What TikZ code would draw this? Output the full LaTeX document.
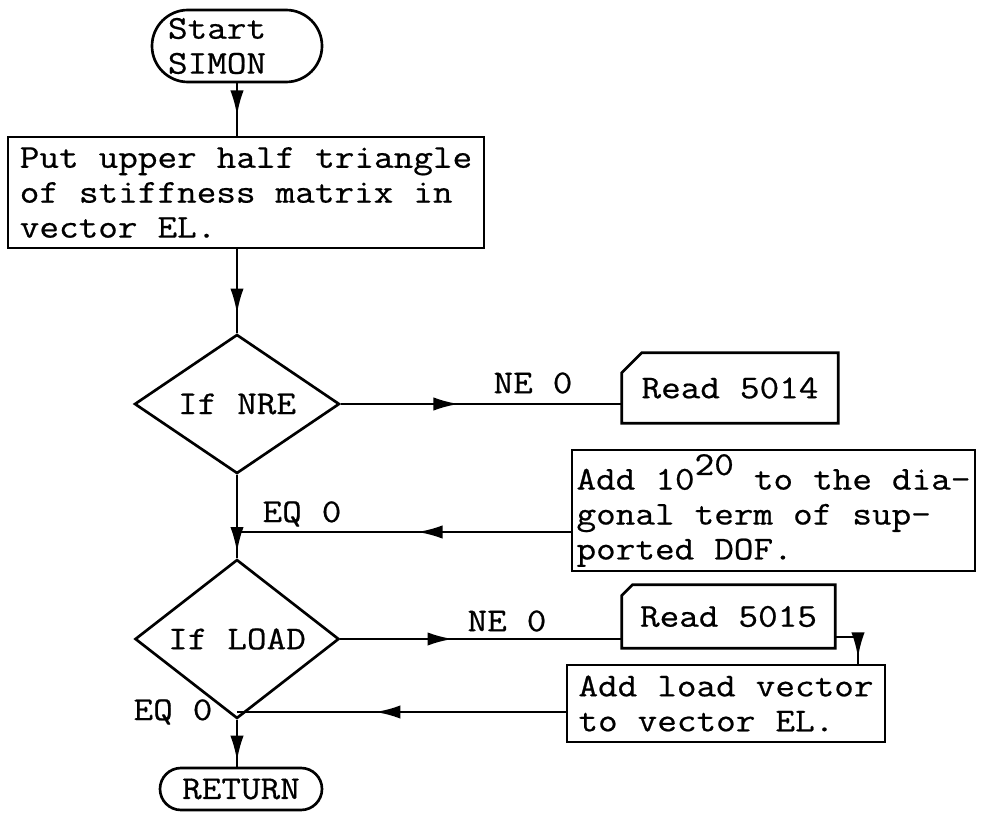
\documentclass[tikz,border=0pt]{standalone}
\usepackage{fontspec}
\newfontfamily\twfont{Latin Modern Mono}[FakeStretch=1.143,FakeBold=0.6]
\newcommand{\twsetup}{\twfont\fontsize{25}{26.2}\selectfont
  \fontdimen2\font=15pt\fontdimen3\font=0pt\fontdimen4\font=0pt\relax}
\usetikzlibrary{shapes.geometric,arrows.meta,decorations.markings}
\begin{document}
\begin{tikzpicture}[x=0.75pt,y=-0.75pt,
  every node/.style={font=\twsetup},
  boxline/.style={line width=2pt},
  conn/.style={line width=2pt},
  midarrow/.style={postaction={decorate},decoration={markings,
     mark=at position #1 with {\arrow{Latex[length=19pt,width=10pt]}}}},
  procbox/.style={boxline,draw,rectangle,inner xsep=2pt,inner ysep=0pt,align=left},
  termbox/.style={boxline,draw,rectangle,rounded corners=#1,inner ysep=0pt},
  decision/.style={boxline,draw,diamond,inner sep=0pt},
  cardbox/.style={rectangle,inner sep=0pt},
  lbl/.style={inner sep=0pt}]
\useasboundingbox (0,0) rectangle (992,813);

% terminals
\node[termbox=27pt,minimum width=127.5pt,minimum height=54pt,text width=103.5pt,inner xsep=12pt,align=left]
  (start) at (237,46) {Start\\SIMON};
\node[termbox=15.75pt,minimum width=121.5pt,minimum height=31.5pt]
  (ret) at (241,789) {RETURN};

% process boxes
\node[procbox,minimum width=357pt,minimum height=83.25pt]
  (box1) at (246,192.5) {Put upper half triangle\\of stiffness matrix in\\vector EL.};
\node[procbox,minimum width=302.25pt,minimum height=90.75pt]
  (box2) at (773.5,510.5) {Add 10\raisebox{11pt}{20} to the dia-\\gonal term of sup-\\ported DOF.};
\node[procbox,minimum width=238.5pt,minimum height=57.75pt]
  (box3) at (726,703.5) {Add load vector\\to vector EL.};

% decisions
\node[decision,minimum width=153.75pt,minimum height=73.5pt] (d1) at (237,404) {If NRE};
\node[decision,minimum width=153pt,minimum height=73.5pt] (d2) at (237,639) {If LOAD};

% read cards
\node[cardbox,minimum width=162pt,minimum height=52.5pt] (read1) at (730,388) {Read 5014};
\draw[boxline] (read1.south west) -- ([yshift=-15pt]read1.north west) -- ([xshift=15pt]read1.north west)
  -- (read1.north east) -- (read1.south east) -- cycle;
\node[cardbox,minimum width=159.75pt,minimum height=47.25pt] (read2) at (728.5,616.5) {Read 5015};
\draw[boxline] (read2.south west) -- ([yshift=-8pt]read2.north west) -- ([xshift=8pt]read2.north west)
  -- (read2.north east) -- (read2.south east) -- cycle;

% labels
\node[lbl] (ne1) at (533,383) {NE 0};
\node[lbl] (ne2) at (507,621) {NE 0};
\node[lbl] (eq1) at (302,514) {EQ 0};
\node[lbl] (eq2) at (173,712) {EQ 0};

% junctions
\coordinate (j1) at (237,532);
\coordinate (j2) at (237,712);
\coordinate (c1) at (858,637);

% connectors
\draw[conn,midarrow=0.62] (start.south) -- (start.south |- box1.north);
\draw[conn,midarrow=0.77] (d1.north |- box1.south) -- (d1.north);
\draw[conn,midarrow=0.42] (d1.east) -- (d1.east -| read1.west);
\draw[conn,midarrow=0.93] (d1.south) -- (d2.north);
\draw[conn,midarrow=0.46] (box2.west |- j1) -- (j1);
\draw[conn,midarrow=0.4] (d2.east) -- (d2.east -| read2.west);
\draw[conn,midarrow=0.88] (c1 -| read2.east) -- (c1) -- (c1 |- box3.north);
\draw[conn,midarrow=0.58] (box3.west |- j2) -- (j2);
\draw[conn,midarrow=0.88] (d2.south) -- (d2.south |- ret.north);
\end{tikzpicture}
\end{document}
